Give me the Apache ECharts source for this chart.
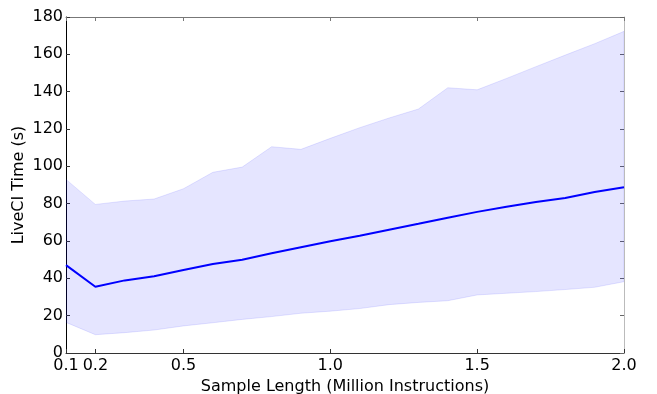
<!DOCTYPE html>
<html>
<head>
<meta charset="utf-8">
<script src="https://cdn.jsdelivr.net/npm/echarts@6/dist/echarts.min.js"></script>
<style>
  html, body { margin: 0; padding: 0; background: #fff; }
  #chart { width: 657px; height: 394px; }
</style>
</head>
<body>
<div id="chart"></div>
<script>
// Sample lengths (million instructions)
const sampleLength = [0.1, 0.2, 0.3, 0.4, 0.5, 0.6, 0.7, 0.8, 0.9, 1.0,
                      1.1, 1.2, 1.3, 1.4, 1.5, 1.6, 1.7, 1.8, 1.9, 2.0];
// Mean LiveCI time (s)
const meanTime = [47.1, 35.5, 38.9, 41.1, 44.5, 47.7, 50.0, 53.4, 56.7, 59.9,
                  62.8, 66.0, 69.2, 72.5, 75.6, 78.4, 80.9, 83.0, 86.2, 88.8];
// Lower and upper bounds of the spread
const lowerTime = [16.4, 9.8, 10.9, 12.3, 14.5, 16.2, 18.0, 19.5, 21.3, 22.4,
                   23.8, 25.9, 27.1, 28.0, 31.1, 32.0, 32.9, 34.0, 35.2, 38.2];
const upperTime = [93.0, 79.6, 81.4, 82.5, 88.0, 96.8, 99.6, 110.5, 109.1, 115.0,
                   120.7, 125.9, 130.7, 142.1, 141.0, 147.1, 153.4, 159.6, 165.7, 172.3];
// Tick positions
const xTicks = [0.1, 0.2, 0.5, 1.0, 1.5, 2.0];

const font = 'DejaVu Sans';
const fs = 16;
const chart = echarts.init(document.getElementById('chart'), null, { renderer: 'canvas' });

const tickStyle = (color) => ({ show: true, inside: true, length: 4, lineStyle: { color: color, width: 1 } });

// Shaded band between lower and upper bounds, drawn as one polygon
function renderBand(params, api) {
  const pts = [];
  for (let i = 0; i < sampleLength.length; i++) {
    pts.push(api.coord([sampleLength[i], upperTime[i]]));
  }
  for (let i = sampleLength.length - 1; i >= 0; i--) {
    pts.push(api.coord([sampleLength[i], lowerTime[i]]));
  }
  return {
    type: 'polygon',
    shape: { points: pts },
    style: { fill: 'rgba(0,0,255,0.1)', stroke: 'rgba(0,0,255,0.1)', lineWidth: 1 }
  };
}

chart.setOption({
  animation: false,
  backgroundColor: '#fff',
  grid: { left: 66, top: 17, right: 33, bottom: 41, containLabel: false, outerBoundsMode: 'none' },
  xAxis: [
    {
      type: 'value', min: 0.1, max: 2.0, position: 'bottom',
      name: 'Sample Length (Million Instructions)',
      nameLocation: 'middle', nameGap: 23,
      nameTextStyle: { fontFamily: font, fontSize: fs, color: '#000' },
      axisLine: { show: true, onZero: false, lineStyle: { color: '#333', width: 1 } },
      axisTick: Object.assign(tickStyle('#333'), { customValues: xTicks }),
      axisLabel: { customValues: xTicks, formatter: v => v.toFixed(1), fontFamily: font, fontSize: fs, color: '#000', margin: 5 },
      splitLine: { show: false }
    },
    {
      type: 'value', min: 0.1, max: 2.0, position: 'top',
      axisLine: { show: true, onZero: false, lineStyle: { color: '#777', width: 1 } },
      axisTick: Object.assign(tickStyle('#777'), { customValues: xTicks }),
      axisLabel: { show: false },
      splitLine: { show: false }
    }
  ],
  yAxis: [
    {
      type: 'value', min: 0, max: 180, interval: 20, position: 'left',
      name: 'LiveCI Time (s)',
      nameLocation: 'middle', nameGap: 39, nameRotate: 90, nameMoveOverlap: false,
      nameTextStyle: { fontFamily: font, fontSize: fs, color: '#000' },
      axisLine: { show: true, onZero: false, lineStyle: { color: '#000', width: 1 } },
      axisTick: tickStyle('#333'),
      axisLabel: { fontFamily: font, fontSize: fs, color: '#000', margin: 3 },
      splitLine: { show: false }
    },
    {
      type: 'value', min: 0, max: 180, interval: 20, position: 'right',
      axisLine: { show: true, onZero: false, lineStyle: { color: '#bbb', width: 1 } },
      axisTick: tickStyle('#666'),
      axisLabel: { show: false },
      splitLine: { show: false }
    }
  ],
  series: [
    {
      name: 'band', type: 'custom', silent: true,
      renderItem: renderBand,
      data: [0],
      clip: true, z: 1
    },
    {
      name: 'mean', type: 'line', symbol: 'none', silent: true,
      data: sampleLength.map((x, i) => [x, meanTime[i]]),
      lineStyle: { color: '#0000ff', width: 2 },
      z: 5
    }
  ]
});
</script>
</body>
</html>
